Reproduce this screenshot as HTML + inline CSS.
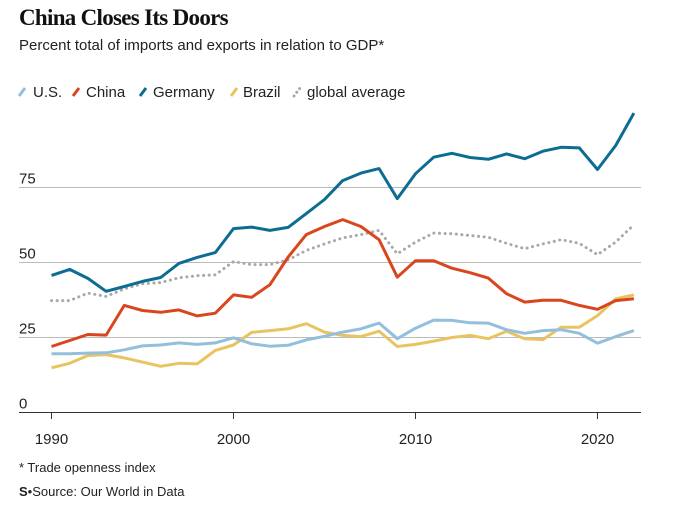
<!DOCTYPE html>
<html><head><meta charset="utf-8">
<style>
body{margin:0;background:#fff;width:690px;height:511px;overflow:hidden;font-family:"Liberation Sans",sans-serif;color:#111}
#title{position:absolute;left:19px;top:5px;font:900 23px "Liberation Serif",serif;letter-spacing:-0.7px;margin:0}
#sub{position:absolute;left:19px;top:37px;font-size:15px;color:#222}
svg{position:absolute;left:0;top:0}
.foot{position:absolute;left:19px;font-size:13px;color:#222}
</style></head><body>
<h1 id="title">China Closes Its Doors</h1>
<div id="sub">Percent total of imports and exports in relation to GDP*</div>
<svg id="chart" width="690" height="511"></svg>
<div class="foot" style="top:460px">* Trade openness index</div>
<div class="foot" style="top:484px"><b style="font-family:'Liberation Sans',sans-serif">S</b>•Source: Our World in Data</div>
<script>
const years=[1990,1991,1992,1993,1994,1995,1996,1997,1998,1999,2000,2001,2002,2003,2004,2005,2006,2007,2008,2009,2010,2011,2012,2013,2014,2015,2016,2017,2018,2019,2020,2021,2022];
const usVals=[19.6,19.6,19.8,19.9,20.9,22.2,22.5,23.2,22.7,23.2,24.9,22.9,22.1,22.4,24.2,25.4,26.8,27.9,29.8,24.6,28.1,30.8,30.7,29.9,29.8,27.6,26.4,27.3,27.6,26.4,23.1,25.3,27.3];
const chinaVals=[22,24,26,25.8,35.7,34,33.4,34.2,32.2,33.1,39.2,38.4,42.6,51.8,59.3,62,64.3,62,57.6,45.1,50.6,50.6,48.1,46.6,44.8,39.6,36.8,37.4,37.4,35.7,34.4,37.3,37.9];
const germanyVals=[45.7,47.7,44.7,40.4,42,43.7,45,49.7,51.7,53.3,61.3,61.8,60.7,61.7,66.3,71,77.3,79.8,81.3,71.3,79.6,85.1,86.4,85,84.4,86.2,84.6,87.1,88.4,88.2,81,89,99.8];
const brazilVals=[14.9,16.4,19,19.3,18.2,16.8,15.4,16.4,16.2,20.7,22.5,26.7,27.3,27.9,29.6,26.8,25.7,25.3,27.1,22,22.7,23.8,25,25.7,24.6,27.1,24.6,24.3,28.4,28.4,32.3,37.9,39.2];
const globalVals=[37.3,37.3,39.8,38.7,41.2,42.9,43.3,44.9,45.6,45.9,50.3,49.3,49.3,50.9,54,56.2,58.2,59.3,60.7,52.9,56.8,59.8,59.6,59,58.4,56.4,54.6,56.2,57.6,56.4,52.6,56.8,62.6];
const yTicks=[0,25,50,75];
const xTicks=[1990,2000,2010,2020];
const seriesNames=["U.S.","China","Germany","Brazil","global average"];

const NS="http://www.w3.org/2000/svg";
const svg=document.getElementById('chart');
const x=v=>51.5+(v-1990)*18.2;
const y=v=>412.5-v*3;
function mk(tag,attrs,parent){const e=document.createElementNS(NS,tag);for(const k in attrs)e.setAttribute(k,attrs[k]);(parent||svg).appendChild(e);return e;}

yTicks.forEach(t=>{
  if(t>0){const g=mk('line',{x1:19,x2:641,y1:y(t),y2:y(t),stroke:'#bbb','stroke-width':1});
  
  }
  const l=mk('text',{x:19,y:y(t)-4,'font-size':15,fill:'#222','font-family':'Liberation Sans, sans-serif'});
  l.textContent=t;
  
  
});
const ax=mk('line',{x1:19,x2:641,y1:412.5,y2:412.5,stroke:'#333','stroke-width':1});


xTicks.forEach(t=>{
  const tk=mk('line',{x1:x(t),x2:x(t),y1:412.5,y2:419,stroke:'#333','stroke-width':1});
  
  
  const l=mk('text',{x:x(t),y:444,'font-size':15,fill:'#222','text-anchor':'middle','font-family':'Liberation Sans, sans-serif'});
  l.textContent=t;
  
  
});

const series=[
 {vals:globalVals,color:'#a8a8a8',dash:'0.1 5.5',name:'series-global-average',w:3},
 {vals:brazilVals,color:'#e8c461',name:'series-brazil',w:3},
 {vals:usVals,color:'#93bfdc',name:'series-us',w:3},
 {vals:chinaVals,color:'#d9461e',name:'series-china',w:3},
 {vals:germanyVals,color:'#0d6c92',name:'series-germany',w:3}
];
series.forEach(s=>{
  const d=s.vals.map((v,i)=>(i?'L':'M')+x(years[i]).toFixed(1)+','+y(v).toFixed(1)).join('');
  const p=mk('path',{d:d,fill:'none',stroke:s.color,'stroke-width':s.w,'stroke-linejoin':'round','stroke-linecap':s.dash?'round':'butt'});
  if(s.dash)p.setAttribute('stroke-dasharray',s.dash);
  
  
});

const legendColors=['#93bfdc','#d9461e','#0d6c92','#e8c461','#a8a8a8'];
const legendIcon=[19,73,140,231,294];
const legendText=[33,86,153,243,307];
seriesNames.forEach((n,i)=>{
  const ic=mk('line',{x1:legendIcon[i],y1:96,x2:legendIcon[i]+6,y2:88,stroke:legendColors[i],'stroke-width':3,'stroke-linecap':i==4?'round':'butt','stroke-dasharray':i==4?'0.1 4.5':'none'});
  
  
  const t=mk('text',{x:legendText[i],y:97,'font-size':15,fill:'#222','font-family':'Liberation Sans, sans-serif'});
  t.textContent=n;
  
  
});
</script>
</body></html>
